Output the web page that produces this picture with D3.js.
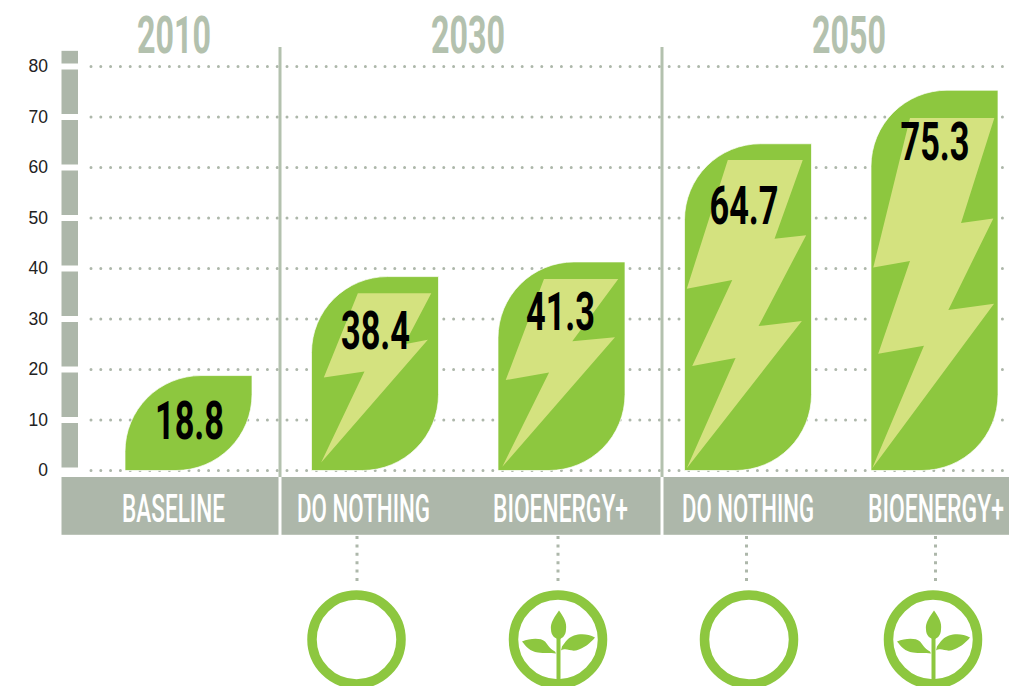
<!DOCTYPE html>
<html>
<head>
<meta charset="utf-8">
<script src="https://cdn.jsdelivr.net/npm/d3@7"></script>
<style>
  html, body { margin: 0; padding: 0; background: #fff; overflow: hidden; }
  svg { display: block; }
</style>
</head>
<body>
<div id="wrapper"></div>
<script>
// Data
const scenarios = ["BASELINE", "DO NOTHING", "BIOENERGY+", "DO NOTHING", "BIOENERGY+"];
const values = [18.8, 38.4, 41.3, 64.7, 75.3];
const years = ["2010", "2030", "2050"];
const yTicks = [0, 10, 20, 30, 40, 50, 60, 70, 80];

// Lightning bolts: [share of bar width, value on the y axis]
const bolts = [
  null,
  [[.365, 35.1], [.943, 35.1], [.732, 25.0], [.916, 25.9], [.076, 1.6], [.417, 19.6], [.097, 18.4]],
  [[.362, 37.9], [.947, 37.9], [.585, 25.6], [.921, 26.4], [.034, .75], [.402, 19.4], [.061, 17.9]],
  [[.341, 61.5], [.931, 61.5], [.709, 45.9], [.958, 46.6], [.583, 28.6], [.924, 29.6], [.018, .44],
   [.402, 22.3], [.061, 20.7], [.376, 37.7], [.018, 36.0]],
  [[.307, 69.8], [.971, 69.8], [.709, 49.0], [.963, 49.9], [.609, 31.8], [.969, 33.0], [.010, .44],
   [.417, 24.7], [.057, 23.1], [.307, 41.5], [.018, 40.2]],
];

// Layout, measured on the picture
const dimensions = { width: 1009, height: 686 };
const valueLabelDrop = [63, 72, 68, 80, 70];
const valueLabelShift = [1, 0.5, -1, -4, 0.5];
const scenarioCenters = [173.5, 363.5, 560.5, 748, 936];
const scenarioWidths = [103, 133, 135, 132, 136];
const yearCenters = [174, 468, 849];
const dividers = [280, 662];
const connectors = [357, 558, 746.5, 935.5];
const iconCenters = [356.5, 558, 749, 933];
const iconHasSprout = [false, true, false, true];

const sage = "#adb7aa";
const titleSage = "#b3c1ae";
const green = "#8dc73f";
const boltGreen = "#d4e27f";
const condensed = "Roboto, 'Liberation Sans', sans-serif";

const svg = d3.select("#wrapper")
  .append("svg")
  .attr("width", dimensions.width)
  .attr("height", dimensions.height);

// Squeeze text horizontally to the width it has in the picture (no condensed font here)
function squeeze(selection, xAccessor, y, widthAccessor) {
  selection.attr("transform", function (d, i) {
    const natural = this.getComputedTextLength();
    return `translate(${xAccessor(d, i)},${typeof y === "function" ? y(d, i) : y}) scale(${widthAccessor(d, i) / natural},1)`;
  });
}

// Scales
const yScale = d3.scaleLinear().domain([0, 80]).range([470.5, 66.5]);
const xScale = d3.scaleBand()
  .domain(d3.range(values.length))
  .range([125, 998])
  .paddingInner(0.319);

// Dotted grid
svg.append("g")
  .selectAll("line")
  .data(yTicks)
  .join("line")
  .attr("x1", 91)
  .attr("x2", dimensions.width)
  .attr("y1", (d) => yScale(d))
  .attr("y2", (d) => yScale(d))
  .attr("stroke", sage)
  .attr("stroke-width", 3)
  .attr("stroke-linecap", "round")
  .attr("stroke-dasharray", "0 9.8");

// Segmented bar next to the axis; the top piece stops just above the 80 line
const segmentEdges = [83.1, ...yTicks.slice().reverse()];
svg.append("g")
  .selectAll("rect")
  .data(d3.pairs(segmentEdges))
  .join("rect")
  .attr("x", 61.5)
  .attr("width", 16.5)
  .attr("y", (d) => yScale(d[0]) + (d[0] > 80 ? 0 : 3))
  .attr("height", (d) => yScale(d[1]) - yScale(d[0]) - (d[0] > 80 ? 3 : 6))
  .attr("fill", sage);

// Axis labels
const yAxis = svg.append("g")
  .attr("transform", "translate(48,0)")
  .call(d3.axisLeft(yScale).tickValues(yTicks).tickSize(0).tickPadding(0));
yAxis.select(".domain").remove();
yAxis.selectAll("text")
  .attr("font-family", "'Liberation Sans', Arial, sans-serif")
  .attr("font-size", 17.5)
  .attr("fill", "#222")
  .attr("dy", "0.3em");

// Leaf shaped bars: rounded top left and bottom right corners
function leafPath(i) {
  const x0 = xScale(i);
  const x1 = x0 + xScale.bandwidth();
  const y0 = yScale(values[i]);
  const y1 = yScale(0);
  const r = 76;
  const p = d3.path();
  p.moveTo(x0, y1);
  p.arcTo(x0, y0, x1, y0, r);
  p.lineTo(x1, y0);
  p.arcTo(x1, y1, x0, y1, r);
  p.closePath();
  return p.toString();
}

svg.append("g")
  .selectAll("path")
  .data(values.map((d, i) => i))
  .join("path")
  .attr("d", leafPath)
  .attr("fill", green)
  .attr("stroke", "#fff")
  .attr("stroke-opacity", 0.7)
  .attr("stroke-width", 1);

svg.append("g")
  .selectAll("polygon")
  .data(bolts.map((points, i) => ({ points, i })).filter((d) => d.points))
  .join("polygon")
  .attr("points", (d) =>
    d.points
      .map(([share, v]) => [xScale(d.i) + share * xScale.bandwidth(), yScale(v)].join(","))
      .join(" "))
  .attr("fill", boltGreen);

// Value labels
svg.append("g")
  .selectAll("text")
  .data(values)
  .join("text")
  .attr("text-anchor", "middle")
  .attr("font-family", condensed)
  .attr("font-weight", 700)
  .attr("font-size", 54)
  .attr("fill", "#000")
  .text((d) => d.toFixed(1))
  .call(
    squeeze,
    (d, i) => xScale(i) + xScale.bandwidth() / 2 + valueLabelShift[i],
    (d, i) => yScale(d) + valueLabelDrop[i],
    () => 69,
  );

// Scenario band
svg.append("rect")
  .attr("x", 61.5)
  .attr("y", 477)
  .attr("width", dimensions.width - 61.5)
  .attr("height", 57.8)
  .attr("fill", sage);

svg.append("g")
  .selectAll("text")
  .data(scenarios)
  .join("text")
  .attr("text-anchor", "middle")
  .attr("font-family", condensed)
  .attr("font-weight", 500)
  .attr("font-size", 38)
  .attr("fill", "#fff")
  .text((d) => d)
  .call(squeeze, (d, i) => scenarioCenters[i], 522, (d, i) => scenarioWidths[i]);

// Dividers between the years
const dividerGroups = svg.append("g").selectAll("g").data(dividers).join("g");
dividerGroups.append("line")
  .attr("x1", (d) => d)
  .attr("x2", (d) => d)
  .attr("y1", 47)
  .attr("y2", 477)
  .attr("stroke", titleSage)
  .attr("stroke-width", 3);
dividerGroups.append("line")
  .attr("x1", (d) => d)
  .attr("x2", (d) => d)
  .attr("y1", 477)
  .attr("y2", 535)
  .attr("stroke", "#fff")
  .attr("stroke-width", 3);

// Year titles
svg.append("g")
  .selectAll("text")
  .data(years)
  .join("text")
  .attr("text-anchor", "middle")
  .attr("font-family", condensed)
  .attr("font-weight", 700)
  .attr("font-size", 52)
  .attr("fill", titleSage)
  .text((d) => d)
  .call(squeeze, (d, i) => yearCenters[i], 53, () => 74);

// Dotted connectors down to the icons
svg.append("g")
  .selectAll("line")
  .data(connectors)
  .join("line")
  .attr("x1", (d) => d)
  .attr("x2", (d) => d)
  .attr("y1", 536)
  .attr("y2", 586)
  .attr("stroke", sage)
  .attr("stroke-width", 3)
  .attr("stroke-dasharray", "3 5.4");

// Ring icons, with a sprout for the bioenergy scenario
const icons = svg.append("g")
  .selectAll("g")
  .data(iconCenters)
  .join("g")
  .attr("transform", (d) => `translate(${d},639.5)`);

icons.append("circle")
  .attr("r", 44.5)
  .attr("fill", "none")
  .attr("stroke", green)
  .attr("stroke-width", 9.5);

const sprouts = icons.filter((d, i) => iconHasSprout[i]);
sprouts.append("path")
  .attr("fill", green)
  .attr("d", "M1,-29 C6,-22 9,-17 8,-10 C8,-4 4,-1 1,0 C-3,-1 -7,-4 -7,-10 C-8,-17 -3,-23 1,-29 Z");
sprouts.append("path")
  .attr("fill", green)
  .attr("d", "M-36,2 C-28,-1 -18,-2 -13,2 C-10,5 -9,9 -3,12 L-2,14 C-8,13 -14,14 -20,13 C-28,12 -32,7 -36,2 Z");
sprouts.append("path")
  .attr("fill", green)
  .attr("d", "M37,-2 C30,-6 22,-6 16,-4 C10,-2 7,3 4,7 L3,11 C8,8 12,12 18,11 C26,9 33,3 37,-2 Z");
sprouts.append("line")
  .attr("x1", 0.5)
  .attr("x2", 0.5)
  .attr("y1", -2)
  .attr("y2", 41)
  .attr("stroke", green)
  .attr("stroke-width", 4);
</script>
</body>
</html>
